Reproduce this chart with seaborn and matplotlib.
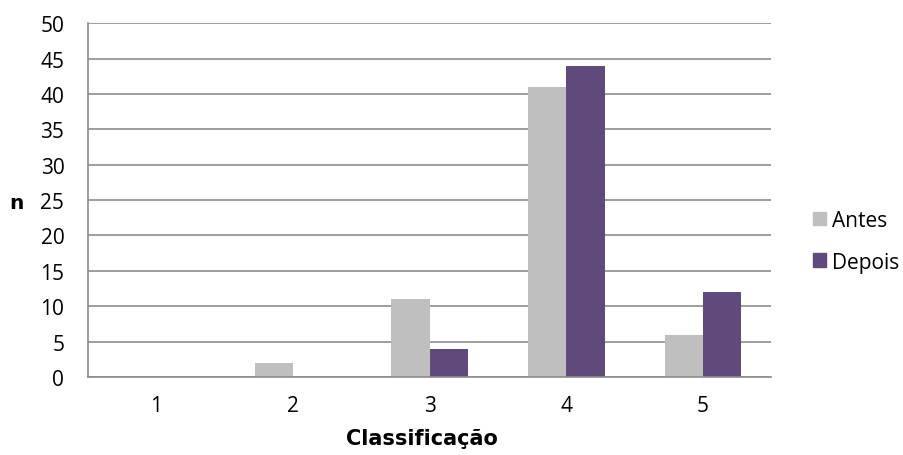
import matplotlib
matplotlib.use("Agg")
import matplotlib.pyplot as plt
import seaborn as sns
import pandas as pd

categories = ["1", "2", "3", "4", "5"]
antes = [0, 2, 11, 41, 6]
depois = [0, 0, 4, 44, 12]
series_names = ["Antes", "Depois"]
y_ticks = [0, 5, 10, 15, 20, 25, 30, 35, 40, 45, 50]

df = pd.DataFrame({
    "Classificação": categories * 2,
    "n": antes + depois,
    "grupo": [series_names[0]] * len(categories) + [series_names[1]] * len(categories),
})

sns.set_theme(style="white")
plt.rcParams["font.family"] = ["Open Sans", "DejaVu Sans"]
plt.rcParams["text.color"] = "black"

fig = plt.figure(figsize=(9.04, 4.56), dpi=100)
ax = fig.add_axes([0.0973, 0.171, 0.756, 0.776])

palette = {"Antes": "#BFBFBF", "Depois": "#604A7B"}
sns.barplot(data=df, x="Classificação", y="n", hue="grupo", order=categories,
            hue_order=series_names, palette=palette, width=0.56, gap=0,
            saturation=1, ax=ax, legend=False, linewidth=0)

ax.set_ylim(0, 50)
ax.set_yticks(y_ticks)
ax.set_xlim(-0.5, len(categories) - 0.5)
ax.yaxis.grid(True, color="#8C8C8C", linewidth=1.2)
ax.set_axisbelow(True)
for side in ["top", "right"]:
    ax.spines[side].set_visible(False)
for side in ["left", "bottom"]:
    ax.spines[side].set_color("#8C8C8C")
    ax.spines[side].set_linewidth(1.2)
ax.tick_params(axis="both", length=0, labelsize=15, colors="black")
ax.tick_params(axis="x", pad=13)
ax.tick_params(axis="y", pad=17)

ax.set_xlabel("Classificação", fontsize=15, fontweight="bold",
              family="DejaVu Sans", color="black")
ax.xaxis.set_label_coords(0.488, -0.145)
ax.set_ylabel("n", fontsize=14.5, fontweight="bold", family="DejaVu Sans",
              color="black", rotation=0, va="center", ha="center", labelpad=0)
ax.yaxis.set_label_coords(-0.105, 0.494)

handles = [plt.Rectangle((0, 0), 1, 1, color=palette[s]) for s in series_names]
fig.legend(handles, series_names, loc="center left", bbox_to_anchor=(0.899, 0.469),
           frameon=False, fontsize=15, handlelength=0.62, handleheight=0.62,
           handletextpad=0.3, labelspacing=1.0, borderpad=0, borderaxespad=0)

fig.savefig("out.png", dpi=100)
